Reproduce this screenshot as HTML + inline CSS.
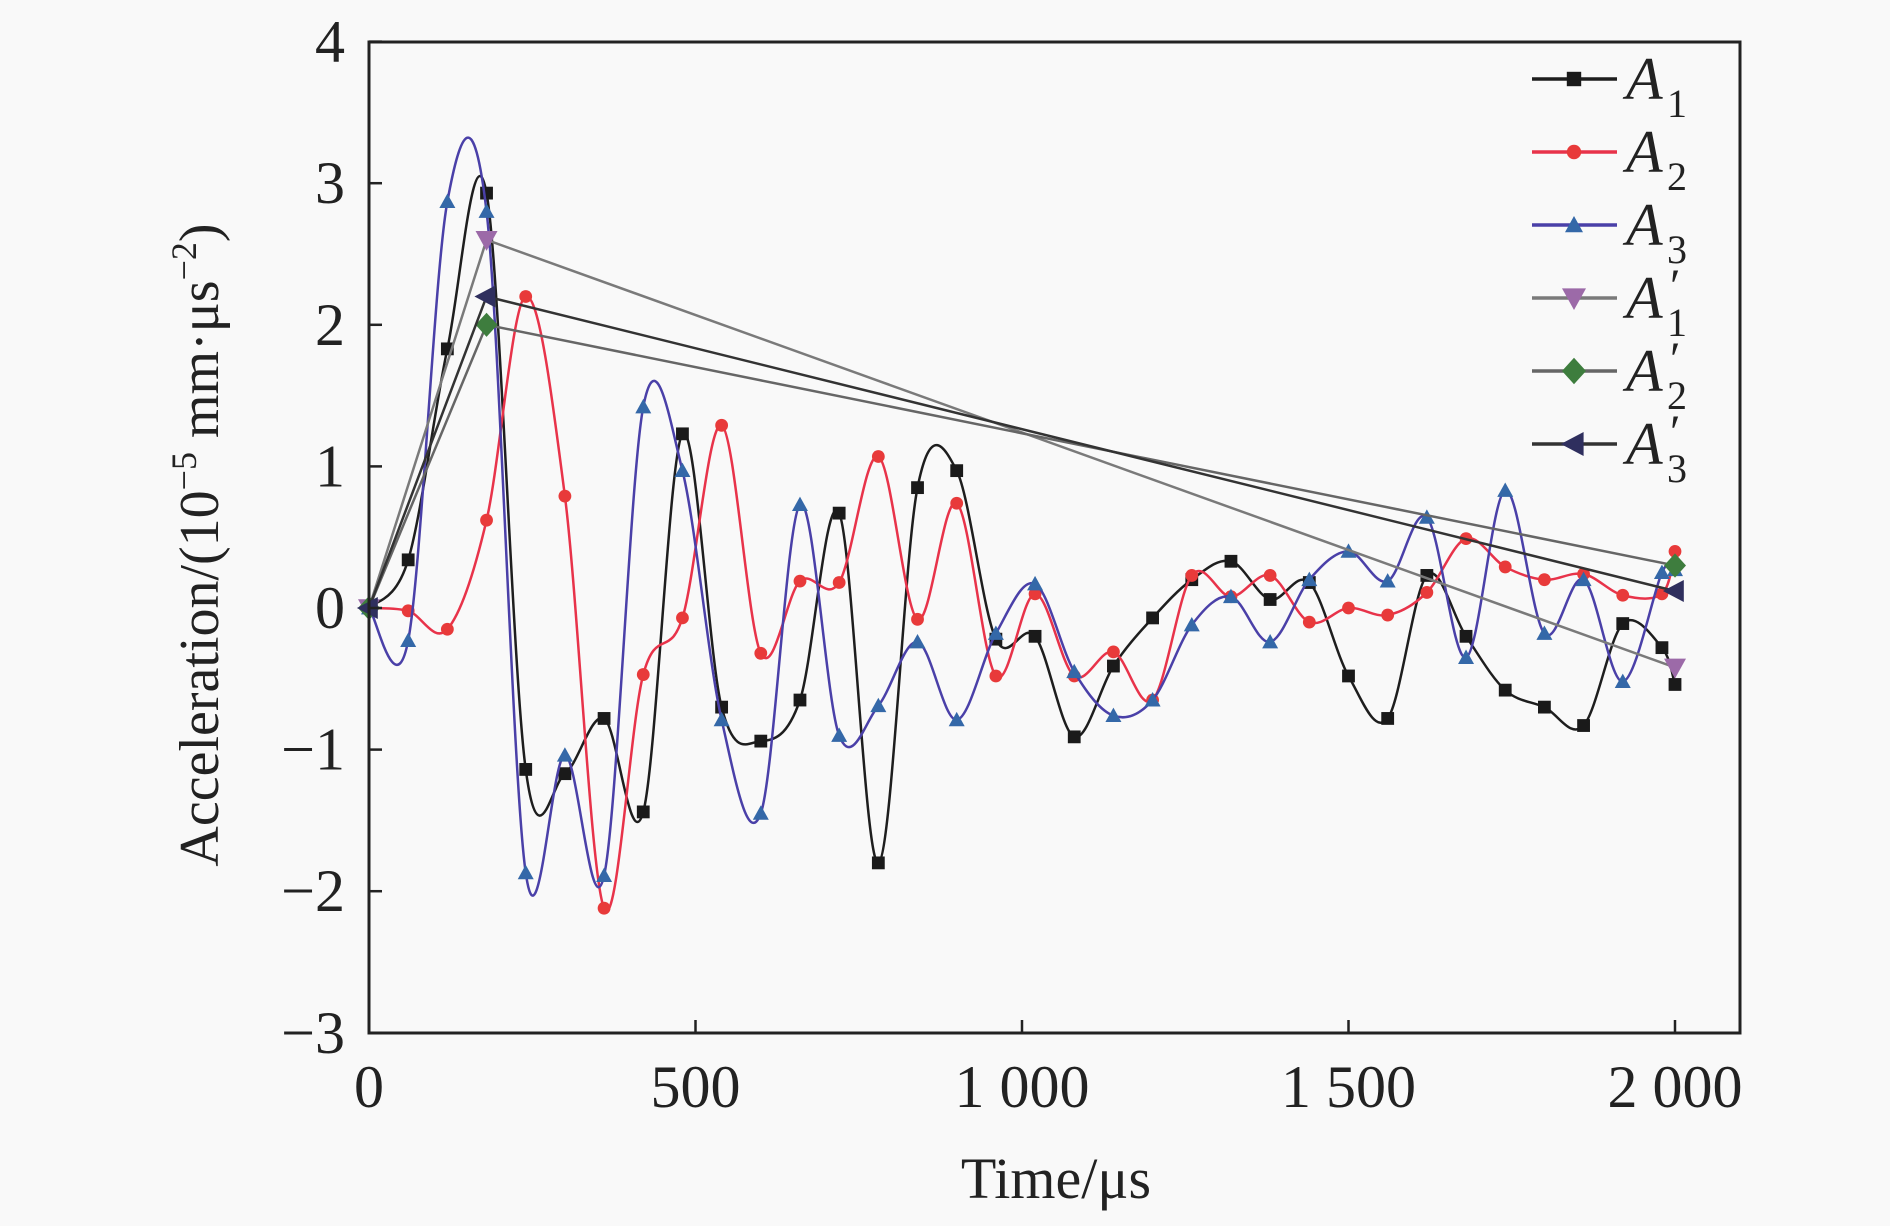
<!DOCTYPE html>
<html><head><meta charset="utf-8"><style>
html,body{margin:0;padding:0;background:#f9f9f9;}
svg{display:block;font-family:"Liberation Serif",serif;}
</style></head><body>
<svg id="chart" width="1890" height="1226" viewBox="0 0 1890 1226" xmlns="http://www.w3.org/2000/svg">
<rect x="0" y="0" width="1890" height="1226" fill="#f9f9f9"/>
<g id="plot"></g>
<rect x="369" y="42" width="1371" height="991" fill="none" stroke="#222" stroke-width="3"/>
<g id="axes"></g>
<text x="1056" y="1198" font-size="58" text-anchor="middle" fill="#222">Time/μs</text>
<text transform="translate(218,545) rotate(-90)" font-size="56" text-anchor="middle" fill="#222">Acceleration/(10<tspan dy="-22" font-size="36">−5</tspan><tspan dy="22"> mm·μs</tspan><tspan dy="-22" font-size="36">−2</tspan><tspan dy="22">)</tspan></text>
<g id="legend"></g>
</svg>
<script>
const times = [0,60,120,180,240,300,360,420,480,540,600,660,720,780,840,900,960,1020,1080,1140,1200,1260,1320,1380,1440,1500,1560,1620,1680,1740,1800,1860,1920,1980,2000];
const a1 = [0,0.34,1.83,2.93,-1.14,-1.17,-0.78,-1.44,1.23,-0.70,-0.94,-0.65,0.67,-1.80,0.85,0.97,-0.22,-0.20,-0.91,-0.41,-0.07,0.20,0.33,0.06,0.18,-0.48,-0.78,0.23,-0.20,-0.58,-0.70,-0.83,-0.11,-0.28,-0.54];
const a2 = [0,-0.02,-0.15,0.62,2.2,0.79,-2.12,-0.47,-0.07,1.29,-0.32,0.19,0.18,1.07,-0.08,0.74,-0.48,0.10,-0.48,-0.31,-0.65,0.23,0.08,0.23,-0.10,0.0,-0.05,0.11,0.49,0.29,0.20,0.24,0.09,0.10,0.40];
const a3 = [0,-0.23,2.87,2.8,-1.87,-1.04,-1.89,1.42,0.97,-0.79,-1.45,0.73,-0.90,-0.69,-0.24,-0.79,-0.18,0.17,-0.45,-0.76,-0.65,-0.12,0.08,-0.24,0.20,0.40,0.19,0.64,-0.35,0.83,-0.18,0.20,-0.52,0.25,0.27];
const primeTimes = [0,180,2000];
const a1p = [0,2.6,-0.42];
const a2p = [0,2.0,0.30];
const a3p = [0,2.2,0.12];
const xTicks = [0,500,1000,1500,2000];
const xTickLabels = ["0","500","1 000","1 500","2 000"];
const yTicks = [-3,-2,-1,0,1,2,3,4];
const yTickLabels = ["−3","−2","−1","0","1","2","3","4"];

const NS="http://www.w3.org/2000/svg";
const X = t => 369 + t/2000*(1675-369);
const Y = v => 608 - v*141.6;
function mk(tag, attrs, parent){const e=document.createElementNS(NS,tag);for(const k in attrs)e.setAttribute(k,attrs[k]);parent.appendChild(e);return e;}
const plot=document.getElementById('plot'), axes=document.getElementById('axes'), legend=document.getElementById('legend');

xTicks.forEach((t,i)=>{
  const l=mk('line',{x1:X(t),x2:X(t),y1:1033,y2:1020,stroke:'#222','stroke-width':2.5},axes);
  
  
  const tx=mk('text',{x:X(t),y:1107,'font-size':60,'text-anchor':'middle',fill:'#222'},axes);
  tx.textContent=xTickLabels[i];
  
  
});
yTicks.forEach((v,i)=>{
  const l=mk('line',{x1:369,x2:382,y1:Y(v),y2:Y(v),stroke:'#222','stroke-width':2.5},axes);
  
  
  const tx=mk('text',{x:345,y:Y(v)+20,'font-size':60,'text-anchor':'end',fill:'#222'},axes);
  tx.textContent=yTickLabels[i];
  
  
});

function spline(ts,vs){
  const p=ts.map((t,i)=>[X(t),Y(vs[i])]);
  let d=`M${p[0][0]},${p[0][1]}`;
  for(let i=0;i<p.length-1;i++){
    const p0=p[Math.max(0,i-1)],p1=p[i],p2=p[i+1],p3=p[Math.min(p.length-1,i+2)];
    const c1=[p1[0]+(p2[0]-p0[0])/6,p1[1]+(p2[1]-p0[1])/6];
    const c2=[p2[0]-(p3[0]-p1[0])/6,p2[1]-(p3[1]-p1[1])/6];
    d+=` C${c1[0]},${c1[1]} ${c2[0]},${c2[1]} ${p2[0]},${p2[1]}`;
  }
  return d;
}
function marker(shape,x,y,fill,parent,s){
  s=s||9;
  let e;
  if(shape==='square') e=mk('rect',{x:x-s*0.8,y:y-s*0.8,width:s*1.6,height:s*1.6,fill},parent);
  else if(shape==='circle') e=mk('circle',{cx:x,cy:y,r:s*0.8,fill},parent);
  else if(shape==='up') e=mk('polygon',{points:`${x},${y-s} ${x-s},${y+s*0.8} ${x+s},${y+s*0.8}`,fill},parent);
  else if(shape==='down') e=mk('polygon',{points:`${x},${y+s} ${x-s},${y-s*0.8} ${x+s},${y-s*0.8}`,fill},parent);
  else if(shape==='diamond') e=mk('polygon',{points:`${x},${y-s*1.1} ${x+s},${y} ${x},${y+s*1.1} ${x-s},${y}`,fill},parent);
  else e=mk('polygon',{points:`${x-s*1.1},${y} ${x+s*0.8},${y-s} ${x+s*0.8},${y+s}`,fill},parent);
  return e;
}
const series=[
  {name:'a1',ts:times,vs:a1,line:'#1e1e1e',mfill:'#1a1a1a',shape:'square',smooth:true,sub:'1',prime:false},
  {name:'a2',ts:times,vs:a2,line:'#e8334a',mfill:'#e83a3a',shape:'circle',smooth:true,sub:'2',prime:false},
  {name:'a3',ts:times,vs:a3,line:'#4a40a8',mfill:'#3468a8',shape:'up',smooth:true,sub:'3',prime:false},
  {name:'a1-prime',ts:primeTimes,vs:a1p,line:'#7a7a7a',mfill:'#9c6aa8',shape:'down',smooth:false,sub:'1',prime:true},
  {name:'a2-prime',ts:primeTimes,vs:a2p,line:'#666',mfill:'#3e7d3e',shape:'diamond',smooth:false,sub:'2',prime:true},
  {name:'a3-prime',ts:primeTimes,vs:a3p,line:'#333',mfill:'#2f2f5e',shape:'left',smooth:false,sub:'3',prime:true}
];
series.forEach((s,k)=>{
  const g=mk('g',{},plot);
  
  
  const d=s.smooth?spline(s.ts,s.vs):'M'+s.ts.map((t,i)=>X(t)+','+Y(s.vs[i])).join(' L');
  const path=mk('path',{d,fill:'none',stroke:s.line,'stroke-width':2.5},g);
  
  
  s.ts.forEach((t,i)=>{
    const m=marker(s.shape,X(t),Y(s.vs[i]),s.mfill,g,s.prime?11:8);
    
    
  });
  const ly=79+k*73;
  const lg=mk('g',{},legend);
  
  
  mk('line',{x1:1532,x2:1617,y1:ly,y2:ly,stroke:s.line,'stroke-width':3.5},lg);
  marker(s.shape,1574,ly,s.mfill,lg,s.prime?12:9);
  const tx=mk('text',{x:1626,y:ly+20,'font-size':60,'font-style':'italic',fill:'#222'},lg);
  tx.textContent='A';
  
  
  const sb=mk('text',{x:1667,y:ly+38,'font-size':40,fill:'#222'},lg);
  sb.textContent=s.sub;
  if(s.prime){
    const pr=mk('text',{x:1670,y:ly+4,'font-size':48,fill:'#222'},lg);
    pr.textContent='′';
  }
});
</script>
</body></html>
